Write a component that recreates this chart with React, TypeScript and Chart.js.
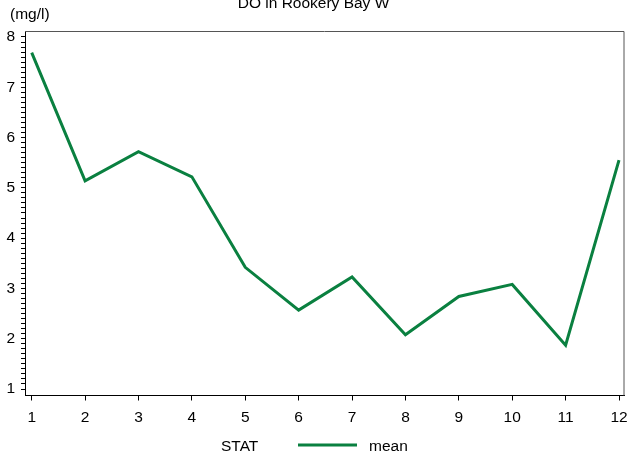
import React, { useEffect, useRef } from 'react';
import { Chart, registerables } from 'chart.js';

Chart.register(...registerables);

// ---- data ----
const months = [1, 2, 3, 4, 5, 6, 7, 8, 9, 10, 11, 12];
const meanDO = [7.69, 5.14, 5.72, 5.22, 3.42, 2.57, 3.23, 2.08, 2.84, 3.08, 1.87, 5.55];
const yMajorTicks = [1, 2, 3, 4, 5, 6, 7, 8];
const xTicks = months;
const chartTitle = 'DO in Rookery Bay W';
const yUnitLabel = '(mg/l)';
const legendTitle = 'STAT';
const seriesLabel = 'mean';

const LINE_COLOR = '#0a8040';
const FONT_FAMILY = '"Liberation Sans", Arial, Helvetica, sans-serif';
const FONT_SIZE = 15.5;

const decorPlugin = {
  id: 'decor',
  afterDraw(chart: any) {
    const { ctx, chartArea } = chart;
    ctx.save();
    // top and right frame lines
    ctx.strokeStyle = '#555';
    ctx.lineWidth = 1;
    ctx.beginPath();
    ctx.moveTo(chartArea.left, chartArea.top + 0.5);
    ctx.lineTo(chartArea.right - 0.5, chartArea.top + 0.5);
    ctx.lineTo(chartArea.right - 0.5, chartArea.bottom);
    ctx.stroke();

    ctx.fillStyle = '#000';
    ctx.font = `${FONT_SIZE}px ${FONT_FAMILY}`;
    ctx.textBaseline = 'alphabetic';
    // title
    ctx.textAlign = 'center';
    ctx.fillText(chartTitle, 313.5, 8);
    // y unit label
    ctx.textAlign = 'left';
    ctx.fillText(yUnitLabel, 10, 19);

    // legend
    const ds = chart.data.datasets[0];
    const ly = 445;
    ctx.textAlign = 'left';
    ctx.fillText(legendTitle, 221, ly + 5.5);
    ctx.strokeStyle = ds.borderColor;
    ctx.lineWidth = 3;
    ctx.beginPath();
    ctx.moveTo(298, ly);
    ctx.lineTo(357, ly);
    ctx.stroke();
    ctx.fillText(ds.label, 369, ly + 5.5);
    ctx.restore();
  },
};

export default function App() {
  const canvasRef = useRef<HTMLCanvasElement | null>(null);

  useEffect(() => {
    if (!canvasRef.current) return;
    const font = { family: FONT_FAMILY, size: FONT_SIZE };
    const yMinor: number[] = [];
    for (let i = 10; i <= 80; i++) yMinor.push(i / 10);

    const chart = new Chart(canvasRef.current, {
      type: 'line',
      data: {
        datasets: [
          {
            label: seriesLabel,
            data: months.map((m, i) => ({ x: m, y: meanDO[i] })),
            borderColor: LINE_COLOR,
            backgroundColor: LINE_COLOR,
            borderWidth: 3,
            pointRadius: 0,
            tension: 0,
            fill: false,
          },
        ],
      },
      options: {
        animation: false,
        responsive: false,
        maintainAspectRatio: false,
        layout: { autoPadding: false, padding: { top: 31, right: 2.5, left: 0, bottom: 0 } },
        plugins: {
          legend: { display: false },
          title: { display: false },
          tooltip: { enabled: false },
        },
        scales: {
          x: {
            type: 'linear',
            min: 0.8745,
            max: 12.103,
            afterBuildTicks: (s: any) => {
              s.ticks = xTicks.map((v) => ({ value: v }));
            },
            afterFit: (s: any) => {
              s.height = 58.5;
              s.paddingLeft = 0;
              s.paddingRight = 0;
              s.paddingTop = 0;
              s.paddingBottom = 0;
            },
            ticks: {
              autoSkip: false,
              maxRotation: 0,
              color: '#000',
              font,
              padding: 8,
              callback: (v: any) => String(v),
            },
            grid: {
              drawOnChartArea: false,
              drawTicks: true,
              tickLength: 5,
              tickColor: '#000',
              color: '#000',
            },
            border: { display: true, color: '#000', width: 1 },
          },
          y: {
            type: 'linear',
            min: 0.871,
            max: 8.119,
            afterBuildTicks: (s: any) => {
              s.ticks = yMinor.map((v) => ({ value: v }));
            },
            afterFit: (s: any) => {
              s.width = 25;
              s.paddingLeft = 0;
              s.paddingRight = 0;
              s.paddingTop = 0;
              s.paddingBottom = 0;
            },
            ticks: {
              autoSkip: false,
              color: '#000',
              font,
              padding: 6,
              callback: (v: any) => {
                const n = Number(v);
                return yMajorTicks.some((t) => Math.abs(t - n) < 1e-6) ? String(Math.round(n)) : '';
              },
            },
            grid: {
              drawOnChartArea: false,
              drawTicks: true,
              tickLength: 4,
              tickColor: '#000',
              color: '#000',
            },
            border: { display: true, color: '#000', width: 1 },
          },
        },
      },
      plugins: [decorPlugin],
    } as any);

    return () => chart.destroy();
  }, []);

  return (
    <div style={{ position: 'absolute', left: 0, top: 0, width: 627, height: 454, background: '#fff' }}>
      <canvas ref={canvasRef} width={627} height={454} style={{ display: 'block', width: 627, height: 454 }} />
    </div>
  );
}
